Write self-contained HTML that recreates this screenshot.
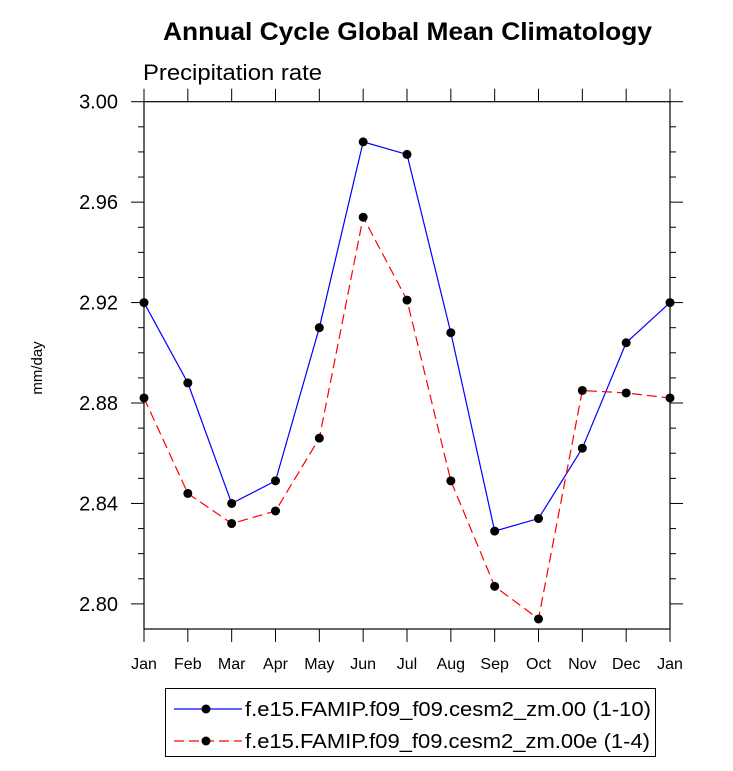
<!DOCTYPE html>
<html><head><meta charset="utf-8"><style>
body{margin:0;background:#fff;width:733px;height:766px;overflow:hidden}
svg text{font-family:"Liberation Sans",Arial,sans-serif}
</style></head><body>
<svg id="c" width="733" height="766">
<text x="163" y="40" textLength="489" lengthAdjust="spacingAndGlyphs" font-size="25" font-weight="bold">Annual Cycle Global Mean Climatology</text>
<text x="143" y="80" font-size="22" textLength="179" lengthAdjust="spacingAndGlyphs">Precipitation rate</text>
<text transform="translate(42,368) rotate(-90)" text-anchor="middle" font-size="15">mm/day</text>
<g id="ax"></g><g id="marks"></g>
<g>
<rect x="165.5" y="688.5" width="490" height="68" fill="none" stroke="#000" stroke-width="1"/>
<g><line x1="174" y1="709" x2="242" y2="709" stroke="#00f" stroke-width="1.2"/><circle cx="206" cy="709" r="4.5"/><text x="245" y="716" font-size="20" textLength="406" lengthAdjust="spacingAndGlyphs">f.e15.FAMIP.f09_f09.cesm2_zm.00 (1-10)</text></g>
<g><line x1="174" y1="741" x2="242" y2="741" stroke="#f00" stroke-width="1.2" stroke-dasharray="10,5"/><circle cx="206" cy="741" r="4.5"/><text x="245" y="748" font-size="20" textLength="405" lengthAdjust="spacingAndGlyphs">f.e15.FAMIP.f09_f09.cesm2_zm.00e (1-4)</text></g>
</g>
</svg>
<script>
const months=["Jan","Feb","Mar","Apr","May","Jun","Jul","Aug","Sep","Oct","Nov","Dec","Jan"];
const blueVals=[2.920,2.888,2.840,2.849,2.910,2.984,2.979,2.908,2.829,2.834,2.862,2.904,2.920];
const redVals=[2.882,2.844,2.832,2.837,2.866,2.954,2.921,2.849,2.807,2.794,2.885,2.884,2.882];
const yTicks=[2.80,2.84,2.88,2.92,2.96,3.00];
const yTickLabels=["2.80","2.84","2.88","2.92","2.96","3.00"];
const L=144,R=670,T=101.7,B=629,yMin=2.79,yMax=3.00;
const X=i=>L+i*(R-L)/(months.length-1);
const Y=v=>B-(v-yMin)/(yMax-yMin)*(B-T);
const NS="http://www.w3.org/2000/svg";
function mk(p,t,a){const e=document.createElementNS(NS,t);for(const k in a)e.setAttribute(k,a[k]);p.appendChild(e);return e;}
const ax=document.getElementById('ax');
let fr=mk(ax,'rect',{x:L,y:T,width:R-L,height:B-T,fill:'none',stroke:'#000','stroke-width':1.2});


months.forEach((m,i)=>{
 const x=X(i);
 mk(ax,'line',{x1:x,y1:B,x2:x,y2:B+13,stroke:'#000'});
 mk(ax,'line',{x1:x,y1:T,x2:x,y2:T-13,stroke:'#000'});
 const t=mk(ax,'text',{x:x,y:669,'text-anchor':'middle','font-size':16});
 t.textContent=m;
 
 
});
for(let v=2.80;v<=3.0001;v+=0.01){
 const y=Y(v);const major=yTicks.some(t=>Math.abs(t-v)<1e-6);
 const len=major?13:6;
 mk(ax,'line',{x1:L-len,y1:y,x2:L,y2:y,stroke:'#000'});
 mk(ax,'line',{x1:R,y1:y,x2:R+len,y2:y,stroke:'#000'});
}
yTicks.forEach((v,i)=>{
 const t=mk(ax,'text',{x:118,y:Y(v)+7,'text-anchor':'end','font-size':20});
 t.textContent=yTickLabels[i];
 
 
});
const mg=document.getElementById('marks');
function series(vals,color,dash,name){
 const p=mk(mg,'polyline',{points:vals.map((v,i)=>X(i)+','+Y(v)).join(' '),fill:'none',stroke:color,'stroke-width':1.2,'stroke-dasharray':dash});
 
 
 vals.forEach((v,i)=>{
  const c=mk(mg,'circle',{cx:X(i),cy:Y(v),r:4.5,fill:'#000'});
  
  
 });
}
series(blueVals,'#00f','none','blue-series');
series(redVals,'#f00','10,5','red-series');
</script>
</body></html>
